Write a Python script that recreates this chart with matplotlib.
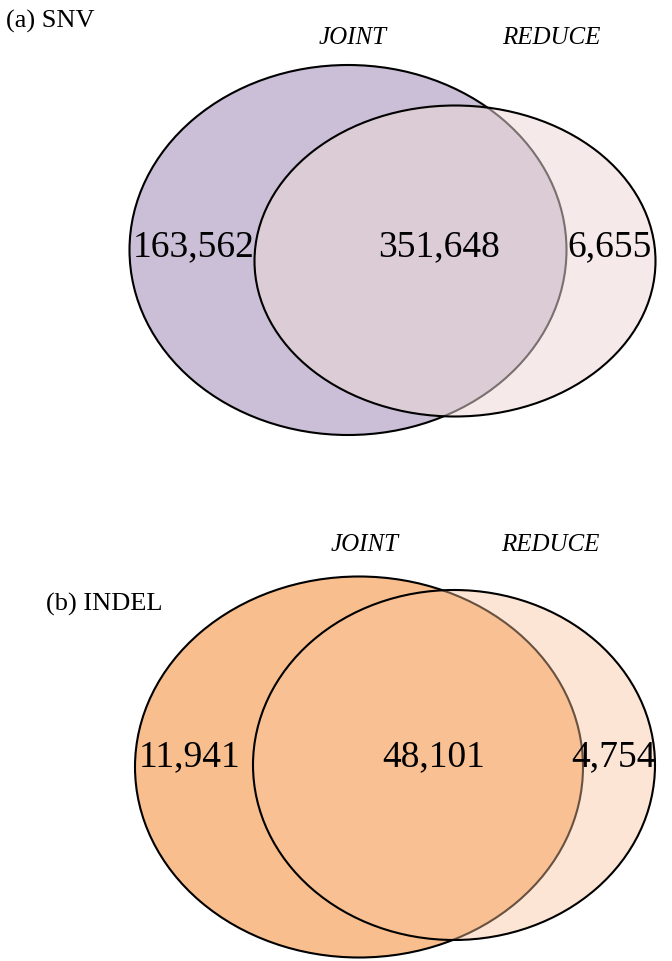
"""
Venn diagrams: JOINT vs REDUCE calling, SNV and INDEL
"""

import matplotlib
matplotlib.use('Agg')
import matplotlib.pyplot as plt
from matplotlib.patches import Ellipse

# DATA
set_names = ['JOINT', 'REDUCE']
panel_titles = ['(a) SNV', '(b) INDEL']
# counts: joint only, shared, reduce only
snv_counts = [163562, 351648, 6655]
indel_counts = [11941, 48101, 4754]

plt.rcParams['font.family'] = ['Liberation Serif', 'DejaVu Serif']

fig = plt.figure(figsize=(6.72, 9.61), dpi=100)
ax = fig.add_axes([0, 0, 1, 1])
ax.set_xlim(0, 672)
ax.set_ylim(961, 0)
ax.axis('off')


def draw_venn(counts, joint, reduce, colors, label_y, label_x, title, title_xy):
    # joint set: ellipse drawn first, reduce laid semi-transparent on top
    jc, jw, jh = joint
    rc, rw, rh = reduce
    ax.add_patch(Ellipse(jc, jw, jh, facecolor=colors[0], edgecolor='black', lw=1.5, zorder=1))
    ax.add_patch(Ellipse(rc, rw, rh, facecolor=colors[1], alpha=colors[2], edgecolor='none', zorder=2))
    ax.add_patch(Ellipse(rc, rw, rh, facecolor='none', edgecolor='black', lw=1.5, zorder=3))
    for x, n in zip(label_x, counts):
        ax.text(x, label_y, f'{n:,}', fontsize=27, ha='center', va='center', zorder=4)
    ax.text(title_xy[0], title_xy[1], title, fontsize=19, ha='left', va='center')


# (a) SNV
draw_venn(snv_counts, ((348, 250), 437, 370), ((455, 261), 401, 311),
          ('#cbbfd8', '#ecd8d6', 0.52), 247, [194, 439, 610],
          panel_titles[0], (6, 21))
ax.text(353, 38, set_names[0], fontsize=18, style='italic', ha='center', va='center')
ax.text(551, 38, set_names[1], fontsize=18, style='italic', ha='center', va='center')

# (b) INDEL
draw_venn(indel_counts, ((359, 767), 448, 381), ((454, 765), 402, 350),
          ('#f8be8e', '#f9c39a', 0.42), 757, [190, 434, 614],
          panel_titles[1], (46, 604))
ax.text(365, 545, set_names[0], fontsize=18, style='italic', ha='center', va='center')
ax.text(550, 545, set_names[1], fontsize=18, style='italic', ha='center', va='center')

fig.savefig('out.png', dpi=100)
